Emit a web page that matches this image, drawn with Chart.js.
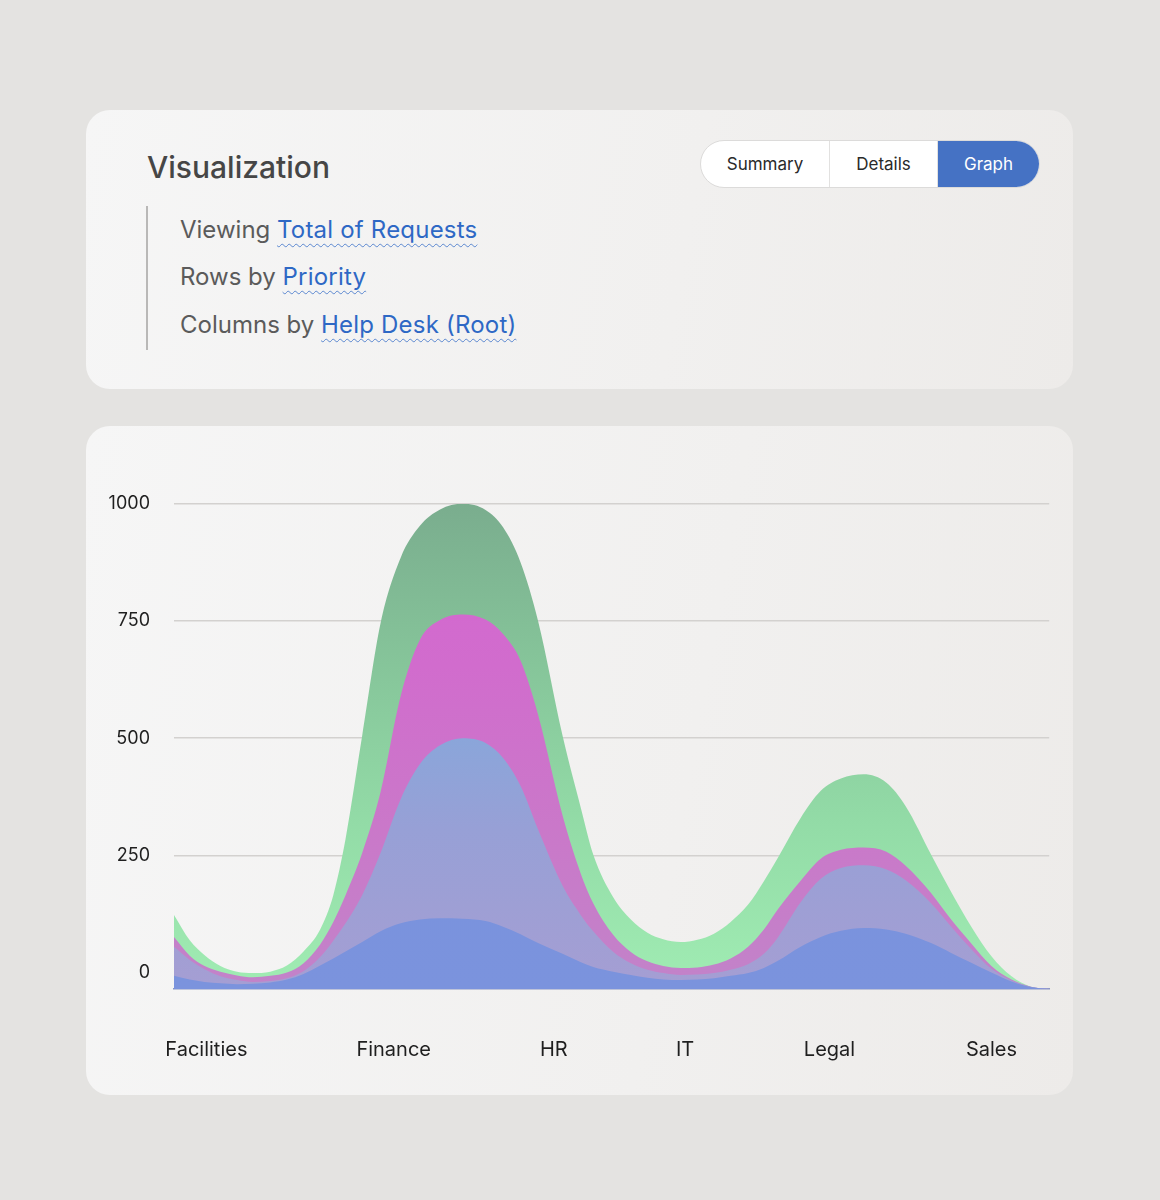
<!DOCTYPE html>
<html>
<head>
<meta charset="utf-8">
<script src="https://cdn.jsdelivr.net/npm/chart.js@4.4.1/dist/chart.umd.min.js"></script>
<style>
  body {
    margin: 0;
    width: 1160px;
    height: 1200px;
    background: #e4e3e1;
    font-family: Inter, "Noto Sans", sans-serif;
    position: relative;
    overflow: hidden;
  }
  .card {
    position: absolute;
    left: 86px;
    width: 987px;
    border-radius: 24px;
    background: linear-gradient(100deg, #f6f6f6 0%, #f1f0ef 60%, #edebe9 100%);
  }
  #top-card { top: 110px; height: 279px; }
  #chart-card { top: 426px; height: 669px; }
  .title {
    position: absolute;
    left: 61px;
    top: 38px;
    font-size: 30px;
    line-height: 38px;
    font-weight: 500;
    color: #464646;
  }
  .rule {
    position: absolute;
    left: 60px;
    top: 96px;
    width: 2px;
    height: 144px;
    background: #b9b8b7;
  }
  .line {
    position: absolute;
    left: 94px;
    font-size: 24px;
    line-height: 30px;
    color: #5b5b5b;
    white-space: nowrap;
  }
  .line a {
    color: #2e68c5;
    letter-spacing: 0.2px;
    text-decoration: underline wavy rgba(46, 104, 197, 0.75);
    text-decoration-thickness: 1px;
    text-underline-offset: 5px;
  }
  .seg {
    position: absolute;
    left: 614px;
    top: 30px;
    height: 46px;
    display: flex;
    border: 1px solid #dcdbda;
    border-radius: 24px;
    overflow: hidden;
    background: #fff;
  }
  .seg div {
    font-size: 17px;
    line-height: 46px;
    text-align: center;
    color: #2a2a2a;
  }
  .seg div + div { border-left: 1px solid #e2e1e0; }
  .seg .on { background: #4572c4; color: #fff; }
  #wrap {
    position: absolute;
    left: 100px;
    top: 469px;
    width: 966px;
    height: 611px;
  }
</style>
</head>
<body>
<div class="card" id="top-card">
  <div class="title">Visualization</div>
  <div class="rule"></div>
  <div class="line" style="top:105px">Viewing <a>Total of Requests</a></div>
  <div class="line" style="top:152px">Rows by <a>Priority</a></div>
  <div class="line" style="top:200px">Columns by <a>Help Desk (Root)</a></div>
  <div class="seg">
    <div style="width:128px">Summary</div>
    <div style="width:107px">Details</div>
    <div class="on" style="width:101px">Graph</div>
  </div>
</div>
<div class="card" id="chart-card"></div>
<div id="wrap"><canvas id="requests-chart" width="966" height="611"></canvas></div>

<script>
// departments and where their names sit along the x axis (0-100)
const departments = ['Facilities', 'Finance', 'HR', 'IT', 'Legal', 'Sales'];
const departmentAt = [3.7, 25.1, 43.4, 58.4, 74.9, 93.4];

// sample positions along the x axis
const sampleX = [0, 1.8, 3.5, 5.3, 7.2, 9.0, 11.0, 12.9, 14.8, 16.7,
    18.2, 19.6, 21.5, 23.6, 25.9, 28.1, 30.4, 33.0, 35.6, 37.6,
    39.6, 41.6, 44.4, 46.5, 47.9, 50.2, 52.2, 54.1, 55.9, 57.9,
    59.8, 61.7, 63.6, 65.6, 67.4, 69.0, 71.6, 73.9, 76.2, 78.8,
    81.4, 83.6, 86.5, 88.8, 91.1, 93.4, 95.7, 97.9, 100];

// requests per priority
const lowRequests = [-7, -15, -20, -23, -25, -24, -21, -15, -3, 15,
    30, 45, 65, 88, 105, 113, 116, 115, 110, 98,
    82, 63, 40, 22, 12, 2, -5, -11, -15, -16,
    -15, -12, -7, -1, 10, 25, 55, 76, 89, 95,
    92, 83, 63, 42, 21, 0, -19, -31, -35];
const mediumRequests = [55, 27, 7, -8, -16, -20, -18, -12, 3, 33,
    68, 105, 165, 255, 370, 445, 485, 500, 490, 458,
    398, 305, 185, 122, 88, 44, 20, 6, -1, -5,
    -4, -1, 6, 18, 40, 75, 150, 200, 223, 229,
    220, 197, 148, 98, 50, 8, -17, -30, -35];
const highRequests = [76, 36, 14, 2, -6, -10, -7, 0, 20, 60,
    108, 165, 255, 385, 590, 710, 752, 764, 753, 722,
    665, 550, 335, 210, 148, 80, 44, 24, 14, 10,
    11, 17, 30, 55, 92, 135, 196, 243, 262, 267,
    258, 228, 170, 113, 62, 14, -15, -30, -35];
const urgentRequests = [123, 69, 37, 14, 2, -1, 2, 15, 45, 92,
    165, 285, 505, 745, 885, 953, 988, 1000, 987, 950,
    875, 750, 505, 350, 252, 160, 113, 85, 71, 65,
    70, 83, 108, 145, 195, 245, 330, 388, 414, 423,
    405, 355, 252, 172, 98, 35, -8, -30, -35];

const yTicks = [0, 250, 500, 750, 1000];

function points(values) {
    return values.map((v, i) => ({ x: sampleX[i], y: v }));
}

// vertical gradient, colours given from top of the chart to the bottom
function fade(stops) {
    return (ctx) => {
        const chart = ctx.chart;
        const area = chart.chartArea;
        if (!area) return stops[stops.length - 1];
        const g = chart.ctx.createLinearGradient(0, area.top, 0, area.bottom);
        stops.forEach((c, i) => g.addColorStop(i / (stops.length - 1), c));
        return g;
    };
}

const requestsChart = new Chart(document.getElementById('requests-chart'), {
    type: 'line',
    data: {
        datasets: [{
            label: 'Low',
            data: points(lowRequests),
            backgroundColor: fade(['#7690dd', '#7892dd', '#7b93dd']),
            fill: 'start'
        }, {
            label: 'Medium',
            data: points(mediumRequests),
            backgroundColor: fade(['#7db0df', '#80aadd', '#97a0d6', '#a59ed3']),
            fill: 'start'
        }, {
            label: 'High',
            data: points(highRequests),
            backgroundColor: fade(['#d566d2', '#d16ccd', '#ca78c9', '#c283c9']),
            fill: 'start'
        }, {
            label: 'Urgent',
            data: points(urgentRequests),
            backgroundColor: fade(['#7aad8e', '#86c59a', '#93dca7', '#a0ecb3']),
            fill: 'start'
        }]
    },
    options: {
        responsive: false,
        animation: false,
        parsing: false,
        layout: {
            padding: 0
        },
        elements: {
            line: { borderWidth: 0, cubicInterpolationMode: 'monotone' },
            point: { radius: 0 }
        },
        plugins: {
            legend: { display: false },
            tooltip: { enabled: false }
        },
        scales: {
            x: {
                type: 'linear',
                min: 0,
                max: 100,
                grid: { display: false, drawTicks: false },
                border: { display: true, color: '#8a95c4', width: 1.5 },
                afterBuildTicks: (scale) => {
                    scale.ticks = departmentAt.map(v => ({ value: v }));
                },
                afterFit: (scale) => { scale.height = 91; },
                ticks: {
                    padding: 49,
                    color: '#1f1f1f',
                    font: { family: 'Inter', size: 20 },
                    maxRotation: 0,
                    autoSkip: false,
                    callback: (value, index) => departments[index]
                }
            },
            y: {
                min: -35,
                max: 1000,
                border: { display: false },
                grid: {
                    drawTicks: false,
                    lineWidth: 1.5,
                    color: (ctx) => ctx.tick && ctx.tick.value === 0 ? 'rgba(0,0,0,0)' : '#d3d1cf'
                },
                afterBuildTicks: (scale) => {
                    scale.ticks = yTicks.map(v => ({ value: v }));
                },
                afterFit: (scale) => { scale.width = 74; },
                ticks: {
                    padding: 24,
                    color: '#1f1f1f',
                    font: { family: 'Inter', size: 18 },
                    callback: (value) => String(value)
                }
            }
        }
    }
});
</script>
</body>
</html>
